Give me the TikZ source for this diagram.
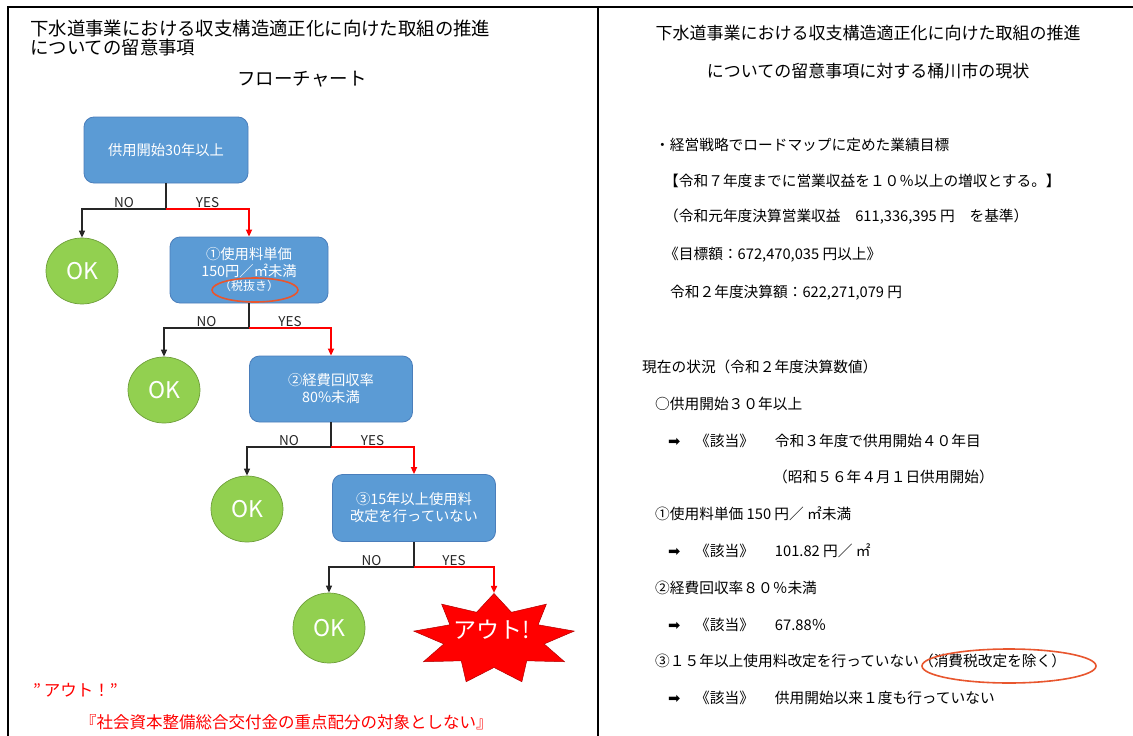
\documentclass[tikz,border=0pt]{standalone}
\usepackage{fontspec}
\setmainfont{Noto Sans CJK JP}
\newfontfamily\ArrowFont{DejaVu Sans}
\usetikzlibrary{arrows.meta,shapes.geometric}
\definecolor{FlowBlue}{HTML}{5B9BD5}
\definecolor{FlowBlueLine}{HTML}{4A7EBB}
\definecolor{FlowGreen}{HTML}{92D050}
\definecolor{FlowGreenLine}{HTML}{6E9E3A}
\definecolor{FlowRed}{HTML}{FF0000}
\definecolor{FlowOval}{HTML}{E8562E}
\definecolor{FlowDark}{HTML}{262626}
\newcommand{\FlowHead}{\fontsize{18.4}{19}\selectfont}
\newcommand{\FlowChartHead}{\fontsize{18.5}{20}\selectfont}
\newcommand{\FlowBoxText}{\fontsize{14.3}{17}\selectfont}
\newcommand{\FlowSmall}{\fontsize{12}{13}\selectfont}
\newcommand{\FlowOK}{\fontsize{23}{24}\selectfont}
\newcommand{\FlowOut}{\fontsize{23}{25}\selectfont}
\newcommand{\FlowLabel}{\fontsize{13.5}{14}\selectfont}
\newcommand{\FlowNote}{\fontsize{16.5}{18}\selectfont}
\newcommand{\NoteHead}{\fontsize{17}{18}\selectfont}
\newcommand{\NoteText}{\fontsize{14.7}{16}\selectfont}
\tikzset{
  condbox/.style={
    rectangle,
    rounded corners=10pt,
    draw=FlowBlueLine,
    fill=FlowBlue,
    line width=0.8pt,
    text=white,
    align=center,
    inner sep=2pt,
    font=\FlowBoxText
  },
  okcircle/.style={
    ellipse,
    draw=FlowGreenLine,
    fill=FlowGreen,
    line width=0.7pt,
    minimum width=72pt,
    minimum height=66pt,
    inner sep=0pt,
    text=white,
    font=\FlowOK
  },
  outstar/.style={
    star,
    star points=9,
    star point ratio=1.6,
    minimum size=91pt,
    inner sep=0pt,
    fill=FlowRed,
    draw=FlowRed!70!black,
    line width=0.5pt
  },
  stemline/.style={draw=FlowDark, line width=1.2pt},
  noarrow/.style={
    -{Triangle[length=7pt,width=6pt]},
    draw=FlowDark,
    line width=1.2pt
  },
  yesarrow/.style={
    -{Triangle[length=7pt,width=6pt]},
    draw=FlowRed,
    line width=1.6pt
  },
  branchlabel/.style={font=\FlowLabel, text=FlowDark, inner sep=1pt, above},
  noteline/.style={anchor=west, font=\NoteText, inner sep=0pt, text=black},
  markoval/.style={draw=FlowOval, line width=1.6pt}
}

\begin{document}
\begin{tikzpicture}[x=1pt,y=-1pt]
\path[use as bounding box] (0,0) rectangle (1133,736);

% frame
\draw[line width=2pt] (8,736) -- (8,7) -- (1133,7);
\draw[line width=2pt] (598,7) -- (598,736);

% left: flow chart
\node[font=\FlowHead, align=left, anchor=west, inner sep=0pt] (lhead) at (30,38.5)
  {下水道事業における収支構造適正化に向けた取組の推進\\についての留意事項};
\node[font=\FlowChartHead, inner sep=0pt] (lchart) at (302,79) {フローチャート};

\node[condbox, minimum width=164pt, minimum height=66pt] (b0) at (166,150) {供用開始30年以上};
\node[condbox, minimum width=158pt, minimum height=66pt] (b1) at (249,270)
  {①使用料単価\\150円／㎡未満\\[-3pt]{\FlowSmall（税抜き）}};
\node[condbox, minimum width=163pt, minimum height=66pt] (b2) at (331,389)
  {②経費回収率\\80\%未満};
\node[condbox, minimum width=163pt, minimum height=67pt] (b3) at (414,508)
  {③15年以上使用料\\改定を行っていない};

\node[okcircle] (ok1) at (82,271) {OK};
\node[okcircle] (ok2) at (164,390) {OK};
\node[okcircle] (ok3) at (247,509) {OK};
\node[okcircle, minimum height=70pt] (ok4) at (329,628) {OK};

\node[outstar, xscale=1.79, transform shape] (out) at (494,639) {};
\node[font=\FlowOut, text=white, inner sep=0pt] (outtext) at (492,630) {アウト!};

\coordinate (j0) at (166,209);
\coordinate (j1) at (249,328);
\coordinate (j2) at (331,447);
\coordinate (j3) at (414,567);

\draw[stemline] (b0.south) -- (j0);
\draw[noarrow] (j0) -| node[branchlabel, pos=0.25] {NO} (ok1.north);
\draw[yesarrow] (j0) -| node[branchlabel, pos=0.25] {YES} (b1.north);
\draw[stemline] (b1.south) -- (j1);
\draw[noarrow] (j1) -| node[branchlabel, pos=0.25] {NO} (ok2.north);
\draw[yesarrow] (j1) -| node[branchlabel, pos=0.25] {YES} (b2.north);
\draw[stemline] (b2.south) -- (j2);
\draw[noarrow] (j2) -| node[branchlabel, pos=0.25] {NO} (ok3.north);
\draw[yesarrow] (j2) -| node[branchlabel, pos=0.25] {YES} (b3.north);
\draw[stemline] (b3.south) -- (j3);
\draw[noarrow] (j3) -| node[branchlabel, pos=0.25] {NO} (ok4.north);
\draw[yesarrow] (j3) -| node[branchlabel, pos=0.25] {YES} (out.north);

\draw[markoval] (255,290) ellipse (43 and 12);

\node[font=\FlowNote, text=FlowRed, anchor=west, inner sep=0pt] (outnote) at (33,690) {”\,アウト！”};
\node[font=\FlowNote, text=FlowRed, anchor=west, inner sep=0pt] (outrule) at (80,722)
  {『社会資本整備総合交付金の重点配分の対象としない』};

% right: present state
\node[font=\NoteHead, inner sep=0pt] (rhead1) at (868,33) {下水道事業における収支構造適正化に向けた取組の推進};
\node[font=\NoteHead, inner sep=0pt] (rhead2) at (868,71) {についての留意事項に対する桶川市の現状};

\node[noteline] (goal) at (655,145) {・経営戦略でロードマップに定めた業績目標};
\node[noteline] (goalline) at (664,181) {【令和７年度までに営業収益を１０％以上の増収とする。】};
\node[noteline] (baseline) at (664,217) {（令和元年度決算営業収益　611,336,395 円　を基準）};
\node[noteline] (target) at (664,255) {《目標額：672,470,035 円以上》};
\node[noteline] (result) at (670,293) {令和２年度決算額：622,271,079 円};

\node[noteline] (state) at (642,367) {現在の状況（令和２年度決算数値）};
\node[noteline] (age) at (655,404) {○供用開始３０年以上};
\node[noteline] (ageres) at (668,441)
  {\makebox[27pt][l]{\ArrowFont ➡}《該当》\hspace{21pt}令和３年度で供用開始４０年目};
\node[noteline] (agedate) at (773,477) {（昭和５６年４月１日供用開始）};
\node[noteline] (price) at (655,514) {①使用料単価 150 円／ ㎡未満};
\node[noteline] (priceres) at (668,551)
  {\makebox[27pt][l]{\ArrowFont ➡}《該当》\hspace{21pt}101.82 円／ ㎡};
\node[noteline] (cost) at (655,588) {②経費回収率８０％未満};
\node[noteline] (costres) at (668,625)
  {\makebox[27pt][l]{\ArrowFont ➡}《該当》\hspace{21pt}67.88％};
\node[noteline] (fee) at (655,661) {③１５年以上使用料改定を行っていない（消費税改定を除く）};
\node[noteline] (feeres) at (668,698)
  {\makebox[27pt][l]{\ArrowFont ➡}《該当》\hspace{21pt}供用開始以来１度も行っていない};

\draw[markoval] (1009,666) ellipse (87 and 17);
\end{tikzpicture}
\end{document}
